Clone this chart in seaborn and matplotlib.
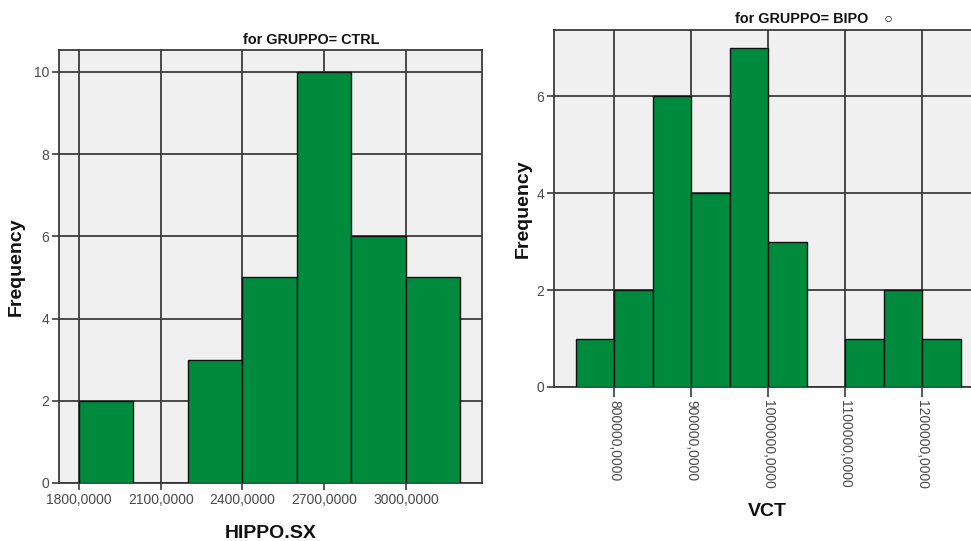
import numpy as np
import pandas as pd
import matplotlib
matplotlib.use("Agg")
import matplotlib.pyplot as plt
import seaborn as sns

# ---- data ----
ctrl_edges = [1800, 2000, 2200, 2400, 2600, 2800, 3000, 3200]
ctrl_counts = [2, 0, 3, 5, 10, 6, 5]
ctrl_xticks = [1800, 2100, 2400, 2700, 3000]
ctrl_xticklabels = ["1800,0000", "2100,0000", "2400,0000", "2700,0000", "3000,0000"]
ctrl_yticks = [0, 2, 4, 6, 8, 10]

bipo_edges = [750000, 800000, 850000, 900000, 950000, 1000000,
              1050000, 1100000, 1150000, 1200000, 1250000]
bipo_counts = [1, 2, 6, 4, 7, 3, 0, 1, 2, 1]
bipo_xticks = [800000, 900000, 1000000, 1100000, 1200000]
bipo_xticklabels = ["800000,0000", "900000,0000", "1000000,0000",
                    "1100000,0000", "1200000,0000"]
bipo_yticks = [0, 2, 4, 6]

sns.set_style("white")
plt.rcParams["font.family"] = ["Liberation Sans", "DejaVu Sans"]

BAR = "#008A3E"
BG = "#F0F0F0"
GRID = "#3C3C3C"
TICKC = "#4A4A4A"

fig = plt.figure(figsize=(9.71, 5.41), dpi=100)
fig.patch.set_facecolor("white")

ax1 = fig.add_axes([59/971, 58/541, 423/971, 433/541])
ax2 = fig.add_axes([554/971, 154/541, 426/971, 357/541])


def centers(edges):
    e = np.asarray(edges, dtype=float)
    return (e[:-1] + e[1:]) / 2


for ax, edges, counts in [(ax1, ctrl_edges, ctrl_counts), (ax2, bipo_edges, bipo_counts)]:
    df = pd.DataFrame({"x": centers(edges), "w": counts})
    sns.histplot(data=df, x="x", weights="w", bins=edges, ax=ax,
                 color=BAR, alpha=1, edgecolor="#111111", linewidth=1.0,
                 zorder=3)
    ax.set_facecolor(BG)
    ax.grid(True, color=GRID, linewidth=1.3, zorder=0)
    ax.set_axisbelow(True)
    for s in ax.spines.values():
        s.set_color(GRID)
        s.set_linewidth(1.3)
        s.set_visible(True)
    ax.tick_params(axis="both", colors=GRID, labelcolor=TICKC, labelsize=10,
                   length=5, width=1.2, direction="out", pad=2,
                   bottom=True, left=True, top=False, right=False)

# left panel
ax1.set_xlim(1727, 3279)
ax1.set_ylim(0, 10.53)
ax1.set_xticks(ctrl_xticks)
ax1.set_xticklabels(ctrl_xticklabels)
ax1.set_yticks(ctrl_yticks)
ax1.set_xlabel("HIPPO.SX", fontsize=14, fontweight="bold", color="#111111", va="top")
ax1.set_ylabel("Frequency", fontsize=14, fontweight="bold", color="#111111")
ax1.xaxis.set_label_coords(0.5, -0.097)
ax1.yaxis.set_label_coords(-0.080, 0.5)
ax1.text(0.435, 1.014, "for GRUPPO= CTRL", transform=ax1.transAxes,
         ha="left", va="baseline", fontsize=10.4, fontweight="bold", color="#111111")

# right panel
ax2.set_xlim(722000, 1275000)
ax2.set_ylim(0, 7.37)
ax2.set_xticks(bipo_xticks)
ax2.set_xticklabels(bipo_xticklabels, rotation=-90, ha="center", va="top")
ax2.set_yticks(bipo_yticks)
ax2.tick_params(axis="x", length=7)
ax2.set_xlabel("VCT", fontsize=14, fontweight="bold", color="#111111", va="top")
ax2.set_ylabel("Frequency", fontsize=14, fontweight="bold", color="#111111")
ax2.xaxis.set_label_coords(0.5, -0.325)
ax2.yaxis.set_label_coords(-0.052, 0.5)
ax2.text(0.425, 1.02, "for GRUPPO= BIPO    \u25cb", transform=ax2.transAxes,
         ha="left", va="baseline", fontsize=10.4, fontweight="bold", color="#111111")

fig.savefig("out.png", dpi=100)
